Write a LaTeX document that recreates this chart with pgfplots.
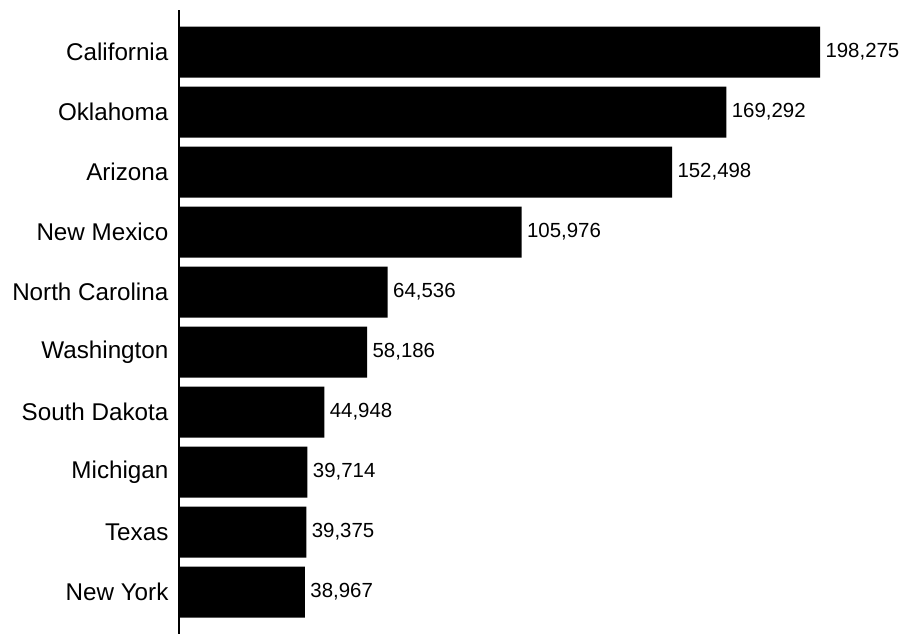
\documentclass[border=0pt]{standalone}
\usepackage{pgfplots}
\pgfplotsset{compat=1.18}
\usepackage{fontspec}
\setmainfont{Liberation Sans}
\begin{document}
\begin{tikzpicture}
\useasboundingbox (-179bp,0bp) rectangle (727bp,634bp);
\begin{axis}[
  at={(0,0)}, anchor=south west,
  xbar, scale only axis,
  width=641bp, height=624bp,
  xmin=0, xmax=198275,
  ymin=-0.7, ymax=9.7, y dir=reverse,
  ytick={0,1,2,3,4,5,6,7,8,9},
  yticklabels={California,Oklahoma,Arizona,New Mexico,North Carolina,Washington,South Dakota,Michigan,Texas,New York},
  hide x axis,
  axis y line=left,
  axis line style={-, line width=1.5bp, black},
  ytick style={draw=none},
  yticklabel style={font=\fontsize{24.3}{28}\selectfont, xshift=-5bp},
  bar width=51bp,
  nodes near coords,
  nodes near coords style={font=\fontsize{20.5}{24}\selectfont, anchor=west, black, xshift=2bp},
  /pgf/number format/.cd, 1000 sep={,}, fixed, assume math mode=true,
]
\addplot[fill=black, draw=none] coordinates {
  (198275,0) (169292,1) (152498,2) (105976,3) (64536,4)
  (58186,5) (44948,6) (39714,7) (39375,8) (38967,9)
};
\end{axis}
\end{tikzpicture}
\end{document}
